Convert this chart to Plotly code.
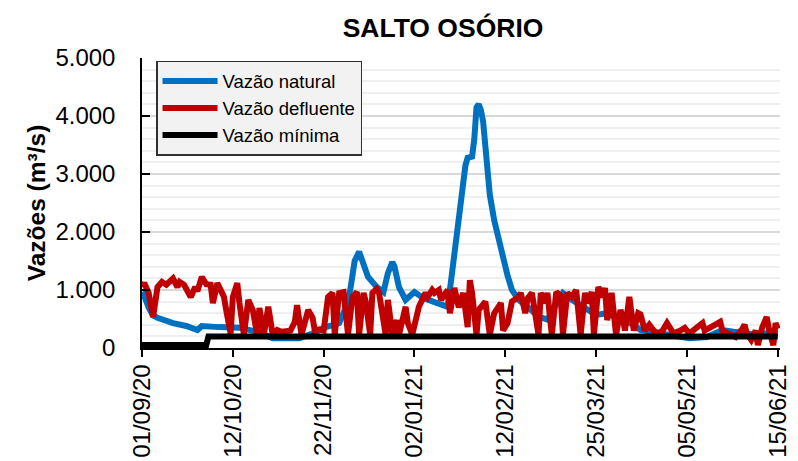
import pandas as pd
import plotly.graph_objects as go

start = pd.Timestamp("2020-09-01")

# Vazão natural (day offset from 01/09/20, m³/s)
nat_days = [0, 1, 3, 5, 7, 10, 14, 20, 25, 27, 29, 35, 44, 52, 59, 67, 71, 77, 83, 89,
            92, 94, 96, 98, 100, 102, 106, 109, 111, 113, 114, 116, 119, 123, 127, 131,
            136, 138, 140, 142, 144, 146, 147, 149, 150, 151, 152, 153, 154, 155, 157,
            159, 161, 163, 165, 167, 170, 174, 179, 183, 187, 190, 194, 201, 205, 210,
            214, 218, 222, 225, 232, 240, 247, 255, 262, 267, 275, 287]
nat_vals = [965, 900, 700, 560, 520, 470, 430, 380, 310, 380, 370, 360, 350, 280, 170,
            155, 170, 250, 360, 430, 700, 1000, 1500, 1660, 1460, 1230, 1050, 965, 1290,
            1480, 1400, 1050, 830, 965, 860, 800, 740, 710, 1310, 1950, 2600, 3150, 3280,
            3300, 3600, 4150, 4200, 4100, 3900, 3400, 2640, 2200, 1850, 1500, 1250, 1000,
            830, 710, 540, 490, 775, 950, 830, 655, 570, 600, 520, 470, 400, 310, 260,
            220, 170, 190, 310, 280, 240, 260]

# Vazão defluente
def_days = [0, 1, 3, 5, 7, 9, 11, 13, 14, 16, 17, 19, 22, 24, 25, 27, 29, 31, 32, 34,
            37, 38, 40, 41, 43, 44, 46, 48, 50, 52, 53, 55, 57, 59, 61, 63, 65, 67, 69,
            70, 72, 75, 77, 78, 80, 82, 84, 86, 87, 89, 91, 93, 95, 97, 98, 100, 101,
            103, 104, 106, 107, 110, 111, 113, 115, 116, 119, 120, 122, 125, 128, 129,
            131, 132, 134, 135, 138, 139, 141, 143, 145, 147, 148, 149, 151, 152, 155,
            157, 159, 162, 163, 165, 167, 170, 171, 173, 174, 176, 179, 180, 182, 183,
            185, 187, 189, 190, 192, 194, 196, 198, 200, 201, 203, 204, 206, 208, 209,
            210, 212, 214, 216, 217, 218, 220, 222, 224, 225, 227, 229, 231, 233, 235,
            237, 240, 243, 245, 247, 250, 253, 254, 256, 259, 261, 262, 265, 268, 271,
            272, 273, 275, 277, 278, 280, 282, 283, 285, 286, 287]
def_vals = [1050, 1120, 950, 535, 1050, 1140, 1090, 1150, 1200, 1050, 1140, 1090, 880,
            1050, 980, 1225, 1100, 1090, 775, 1120, 880, 655, 250, 880, 1120, 775, 230,
            830, 655, 230, 690, 230, 710, 230, 310, 280, 300, 300, 450, 740, 230, 655,
            520, 300, 320, 300, 880, 950, 230, 950, 965, 230, 880, 965, 230, 950, 800,
            230, 950, 1020, 950, 230, 830, 230, 480, 230, 710, 430, 230, 710, 950, 880,
            1000, 950, 1000, 830, 1000, 600, 1035, 700, 950, 360, 1170, 950, 230, 655,
            800, 230, 600, 775, 300, 430, 800, 880, 950, 600, 850, 950, 230, 950, 775,
            950, 230, 965, 900, 230, 950, 880, 1000, 230, 950, 775, 965, 230, 1050, 880,
            1035, 480, 950, 230, 655, 535, 300, 880, 300, 600, 580, 300, 400, 300, 250,
            300, 430, 250, 300, 345, 250, 330, 430, 300, 350, 430, 450, 300, 250, 190,
            330, 400, 250, 140, 300, 50, 360, 535, 330, 50, 430, 330]

# Vazão mínima
min_days = [0, 29, 30, 287]
min_vals = [50, 50, 200, 200]

tick_days = [0, 41, 82, 123, 164, 205, 246, 287]
tick_text = ["01/09/20", "12/10/20", "22/11/20", "02/01/21", "12/02/21",
             "25/03/21", "05/05/21", "15/06/21"]
y_ticks = [0, 1000, 2000, 3000, 4000, 5000]
y_text = ["0", "1.000", "2.000", "3.000", "4.000", "5.000"]


def to_dates(days):
    return [start + pd.Timedelta(days=d) for d in days]


FONT = "Liberation Sans, Arial, sans-serif"
x_range = [start, start + pd.Timedelta(days=288)]

fig = go.Figure()
fig.add_trace(go.Scatter(x=to_dates(nat_days), y=nat_vals, mode="lines",
                         name="Vazão natural", line=dict(color="#0070C0", width=6)))
fig.add_trace(go.Scatter(x=to_dates(def_days), y=def_vals, mode="lines",
                         name="Vazão defluente", line=dict(color="#C00000", width=6)))
fig.add_trace(go.Scatter(x=to_dates(min_days), y=min_vals, mode="lines",
                         name="Vazão mínima", line=dict(color="#000000", width=6)))

fig.update_layout(
    width=798, height=461,
    margin=dict(l=142, r=18, t=58, b=113, autoexpand=False),
    paper_bgcolor="white", plot_bgcolor="white",
    font=dict(family=FONT, color="black"),
    title=dict(text="<b>SALTO OSÓRIO</b>", x=443 / 798, xanchor="center",
               y=1 - 28 / 461, yanchor="middle", font=dict(size=26.5, color="black")),
    legend=dict(x=0.022, y=0.99, xanchor="left", yanchor="top",
                bgcolor="#f2f2f2", bordercolor="#303030", borderwidth=1.5,
                font=dict(size=18.5, color="black"), itemwidth=55,
                tracegroupgap=0),
    showlegend=True,
    xaxis=dict(
        type="date", automargin=False,
        range=x_range,
        tickvals=to_dates(tick_days), ticktext=tick_text, tickangle=-90,
        tickfont=dict(size=24, color="black"),
        ticks="outside", ticklen=7, tickwidth=1.5, tickcolor="black",
        ticklabelstandoff=-2,
        showline=True, linecolor="black", linewidth=1.5,
        showgrid=False, zeroline=False,
    ),
    xaxis2=dict(type="date", overlaying="x", anchor="y", side="bottom",
                range=x_range, tickvals=to_dates(tick_days), showticklabels=False,
                ticks="inside", ticklen=7, tickwidth=1.5, tickcolor="black",
                showgrid=False, showline=False, zeroline=False, automargin=False),
    yaxis=dict(
        range=[0, 5000], automargin=False,
        tickvals=y_ticks, ticktext=y_text,
        tickfont=dict(size=24, color="black"),
        ticks="inside", ticklen=8, tickwidth=1.5, tickcolor="black",
        ticklabelstandoff=20,
        showline=True, linecolor="black", linewidth=1.5,
        showgrid=True, gridcolor="#d9d9d9", gridwidth=1.5,
        minor=dict(dtick=200, showgrid=True, gridcolor="#efefef", gridwidth=1.5, ticks=""),
        zeroline=False,
        title=dict(text="<b>Vazões (m³/s)</b>", font=dict(size=24.5, color="black"),
                   standoff=3),
    ),
)

fig.write_html(
    "out.html",
    config={"displayModeBar": False},
    post_script="document.body.style.margin='0';document.body.style.overflow='hidden';",
)
